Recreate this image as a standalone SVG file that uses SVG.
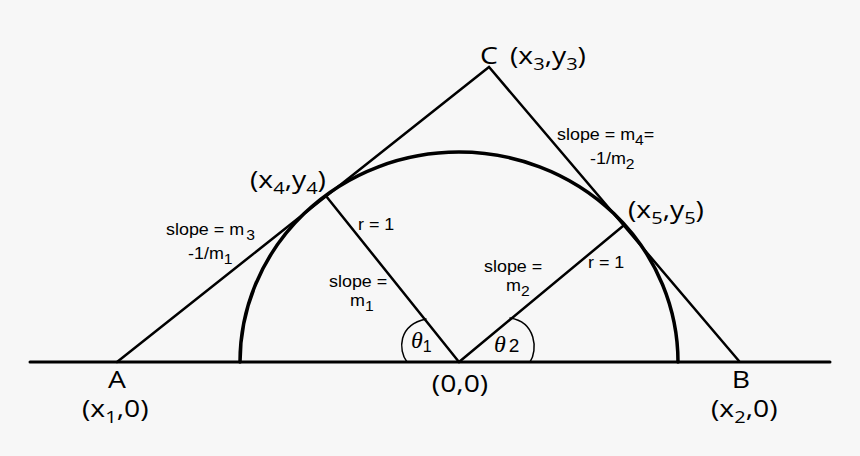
<svg xmlns="http://www.w3.org/2000/svg" width="860" height="456" viewBox="0 0 860 456">
<style>
.ln{stroke:#000;fill:none;stroke-width:2.5;stroke-linecap:round}
.big{font-family:"Open Sans","Liberation Sans",sans-serif;font-size:24px;fill:#000}
.sm{font-family:"Liberation Sans","Open Sans",sans-serif;font-size:16px;fill:#000}
.th{font-family:"Liberation Serif","DejaVu Serif",serif;font-style:italic;font-size:24px;fill:#000}
</style>
<rect width="860" height="456" fill="#f7f7f7"/>
<g id="connectors">
<line class="ln" x1="30" y1="362" x2="830" y2="362" style="stroke-width:3"/>
<path class="ln" d="M240 362 A219 210 0 0 1 678 362" style="stroke-width:3.5"/>
<polyline class="ln" points="117,362 489,67 739,361"/>
<line class="ln" x1="459" y1="362" x2="326" y2="196"/>
<line class="ln" x1="459" y1="362" x2="623" y2="226"/>
<path class="ln" d="M407 362 C398 350 398 325 426 319" style="stroke-width:1.5"/>
<path class="ln" d="M510 318 C536 322 538 350 530 362" style="stroke-width:1.5"/>
</g>
<g id="C">
<text class="big" transform="translate(489 64) scale(1.18 1)" text-anchor="middle">C</text>
<text class="big" transform="translate(510 64) scale(1.18 1)">(x<tspan font-size="17" dy="6">3</tspan><tspan dy="-6">,y</tspan><tspan font-size="17" dy="6">3</tspan><tspan dy="-6">)</tspan></text>
</g>
<g id="P4">
<text class="big" transform="translate(250 188) scale(1.18 1)">(x<tspan font-size="17" dy="6">4</tspan><tspan dy="-6">,y</tspan><tspan font-size="17" dy="6">4</tspan><tspan dy="-6">)</tspan></text>
</g>
<g id="P5">
<text class="big" transform="translate(628 218) scale(1.18 1)">(x<tspan font-size="17" dy="6">5</tspan><tspan dy="-6">,y</tspan><tspan font-size="17" dy="6">5</tspan><tspan dy="-6">)</tspan></text>
</g>
<g id="A">
<text class="big" transform="translate(117 388) scale(1.18 1)" text-anchor="middle">A</text>
<text class="big" transform="translate(82 417) scale(1.18 1)">(x<tspan font-size="17" dy="6">1</tspan><tspan dy="-6">,0)</tspan></text>
</g>
<g id="O">
<text class="big" transform="translate(460 392) scale(1.18 1)" text-anchor="middle">(0,0)</text>
</g>
<g id="B">
<text class="big" transform="translate(741 388) scale(1.18 1)" text-anchor="middle">B</text>
<text class="big" transform="translate(711 417) scale(1.18 1)">(x<tspan font-size="17" dy="6">2</tspan><tspan dy="-6">,0)</tspan></text>
</g>
<g id="labels">
<text class="sm" transform="translate(166 235) scale(1.12 1)">slope = m<tspan font-size="14" dx="2" dy="5">3</tspan></text>
<text class="sm" transform="translate(188 259) scale(1.12 1)">-1/m<tspan font-size="14" dy="5">1</tspan></text>
<text class="sm" transform="translate(358 230) scale(1.12 1)">r = 1</text>
<text class="sm" transform="translate(329 287) scale(1.12 1)">slope =</text>
<text class="sm" transform="translate(350 306) scale(1.12 1)">m<tspan font-size="14" dy="5">1</tspan></text>
<text class="sm" transform="translate(484 272) scale(1.12 1)">slope =</text>
<text class="sm" transform="translate(506 291) scale(1.12 1)">m<tspan font-size="14" dy="5">2</tspan></text>
<text class="sm" transform="translate(588 268) scale(1.12 1)">r = 1</text>
<text class="sm" transform="translate(557 140) scale(1.12 1)">slope = m<tspan font-size="14" dy="5">4</tspan><tspan dy="-5">=</tspan></text>
<text class="sm" transform="translate(590 164) scale(1.12 1)">-1/m<tspan font-size="14" dy="5">2</tspan></text>
<text class="th" x="411" y="348">θ<tspan font-family="Liberation Sans,sans-serif" font-style="normal" font-size="16" dy="4">1</tspan></text>
<text class="th" x="494" y="352">θ<tspan font-family="Liberation Sans,sans-serif" font-style="normal" font-size="19" dx="3" dy="0">2</tspan></text>
</g>
</svg>
